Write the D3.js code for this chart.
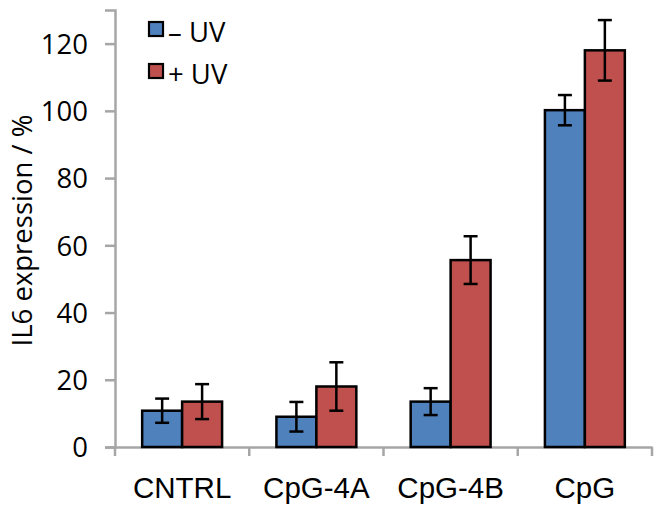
<!DOCTYPE html>
<html><head><meta charset="utf-8">
<script src="https://cdn.jsdelivr.net/npm/d3@7"></script>
<style>html,body{margin:0;padding:0;background:#fff;}</style>
</head><body>
<svg id="chart" width="664" height="513"></svg>
<script>
const categories = ["CNTRL", "CpG-4A", "CpG-4B", "CpG"];
const seriesNames = ["\u2013 UV", "+ UV"];
const minusUV = [10.8, 9.0, 13.5, 100.2];
const minusUVErr = [3.6, 4.4, 4.0, 4.5];
const plusUV = [13.5, 18.0, 55.6, 118.0];
const plusUVErr = [5.2, 7.2, 7.1, 9.0];
const yTicks = [0, 20, 40, 60, 80, 100, 120];
const colors = ["#4F81BD", "#C0504D"];

(function () {
const svg = d3.select("#chart");
const mLeft = 115, mRight = 652, mTop = 10, mBottom = 447;
const x = d3.scaleBand().domain(categories).range([mLeft, mRight]).paddingInner(0).paddingOuter(0);
const xs = d3.scaleBand().domain([0, 1]).range([0, x.bandwidth()]).paddingInner(0).paddingOuter(0.68);
const y = d3.scaleLinear().domain([0, 130]).range([mBottom, mTop]);

const series = [
  {vals: minusUV, errs: minusUVErr},
  {vals: plusUV, errs: plusUVErr}
];

const axisColor = "#a6a6a6";
const yAxis = svg.append("g").attr("transform", `translate(${mLeft},0)`)
  .call(d3.axisLeft(y).tickValues(yTicks).tickSize(10).tickPadding(17).tickFormat(d3.format("d")));
yAxis.select(".domain").attr("stroke", axisColor).attr("stroke-width", 2.5);
yAxis.selectAll(".tick line").attr("stroke", axisColor).attr("stroke-width", 2.5);
yAxis.selectAll(".tick text").attr("font-family", "'Open Sans', sans-serif").attr("font-size", 27.5).attr("fill", "#000").attr("dy", "0.36em");

const xAxis = svg.append("g").attr("transform", `translate(0,${mBottom})`)
  .call(d3.axisBottom(x).tickSize(0).tickPadding(30));
xAxis.select(".domain").attr("stroke", axisColor).attr("stroke-width", 2.5);
xAxis.selectAll(".tick text").attr("font-family", "'Liberation Sans', Arial, sans-serif").attr("font-size", 29.5).attr("fill", "#000");
const bounds = categories.map(c => x(c)).concat([x.range()[1]]);
svg.append("g").selectAll("line").data(bounds).join("line")
  .attr("x1", d => d).attr("x2", d => d)
  .attr("y1", mBottom).attr("y2", mBottom + 9)
  .attr("stroke", axisColor).attr("stroke-width", 2.5);

series.forEach((s, si) => {
  const g = svg.append("g");
  g.selectAll("rect").data(categories).join("rect")
    .attr("x", c => x(c) + xs(si))
    .attr("y", (c, i) => y(s.vals[i]))
    .attr("width", xs.bandwidth())
    .attr("height", (c, i) => y(0) - y(s.vals[i]))
    .attr("fill", colors[si])
    .attr("stroke", "#000").attr("stroke-width", 2.5);
});
series.forEach((s, si) => {
  const g = svg.append("g").attr("stroke", "#000").attr("stroke-width", 2.5);
  categories.forEach((c, i) => {
    const cx = x(c) + xs(si) + xs.bandwidth() / 2;
    const hi = y(s.vals[i] + s.errs[i]), lo = y(s.vals[i] - s.errs[i]);
    g.append("line").attr("x1", cx).attr("x2", cx).attr("y1", hi).attr("y2", lo);
    g.append("line").attr("x1", cx - 7).attr("x2", cx + 7).attr("y1", hi).attr("y2", hi);
    g.append("line").attr("x1", cx - 7).attr("x2", cx + 7).attr("y1", lo).attr("y2", lo);
  });
});

svg.append("text")
  .attr("transform", `translate(32,${(mTop + mBottom) / 2 + 2}) rotate(-90)`)
  .attr("text-anchor", "middle")
  .attr("font-family", "'Open Sans', sans-serif").attr("font-size", 27.5)
  .text("IL6 expression / %");

const leg = svg.append("g");
seriesNames.forEach((n, i) => {
  const yy = 22 + i * 42;
  leg.append("rect").attr("x", 149).attr("y", yy).attr("width", 14).attr("height", 14)
    .attr("fill", colors[i]).attr("stroke", "#000").attr("stroke-width", 2.2);
  leg.append("text").attr("x", 168).attr("y", yy + 20)
    .attr("font-family", "'Open Sans', sans-serif").attr("font-size", 27.5)
    .text(n);
});
})();
</script>
</body></html>
